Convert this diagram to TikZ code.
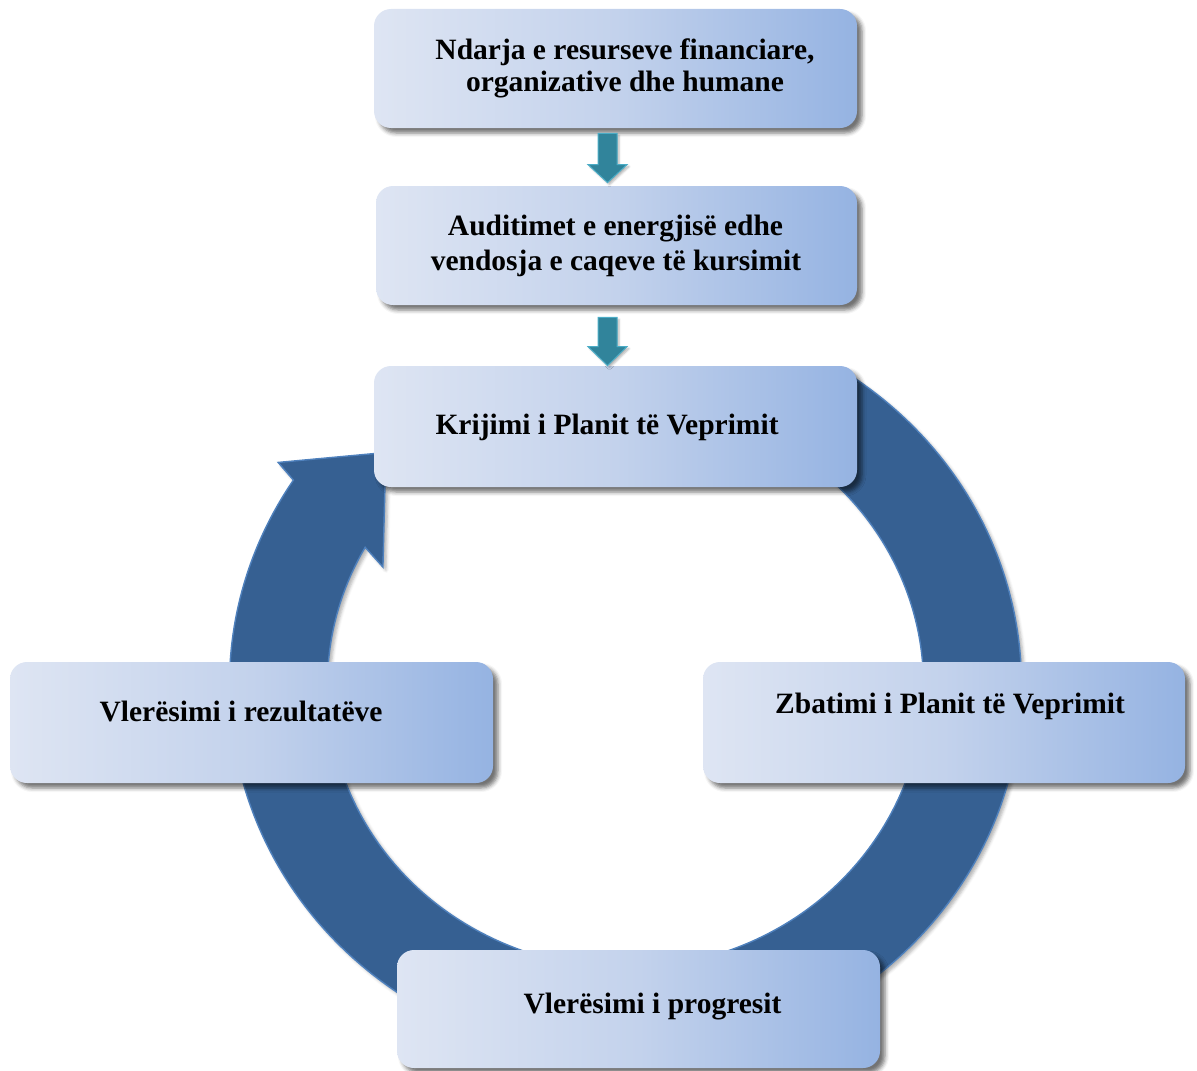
\documentclass[tikz,border=0pt]{standalone}
\usepackage{fontspec}
\setmainfont{Liberation Serif}
\usetikzlibrary{shadows.blur,calc}
\definecolor{boxL}{HTML}{DEE5F3}
\definecolor{boxM}{HTML}{C3D2EC}
\definecolor{boxR}{HTML}{95B3E2}
\definecolor{ringfill}{HTML}{366092}
\definecolor{ringedge}{HTML}{4F81BD}
\definecolor{arrfill}{HTML}{31849B}
\definecolor{arredge}{HTML}{4BACC6}
\tikzset{
  stagebox/.style={rounded corners=8.5pt, minimum width=241.5pt, minimum height=60pt,
    inner sep=0pt, left color=boxL, right color=boxR, middle color=boxM,
    blur shadow={shadow xshift=2.5pt, shadow yshift=-2.5pt, shadow blur radius=2pt, shadow opacity=55}},
  lbl/.style={anchor=base, inner sep=0pt, font=\fontsize{14.75}{17}\selectfont\bfseries},
  ringstyle/.style={fill=ringfill, draw=ringedge, line width=0.7pt, line join=miter,
    blur shadow={shadow xshift=1.5pt, shadow yshift=-1.5pt, shadow blur radius=1.5pt, shadow opacity=30}},
  flowarrow/.style={fill=arrfill, draw=arredge, line width=0.5pt,
    blur shadow={shadow xshift=1pt, shadow yshift=-1pt, shadow blur radius=1pt, shadow opacity=30}}
}
\newcommand\flowarr[3]{% #1 start, #2 tip, #3 head length
  \filldraw[flowarrow] ([xshift=-4.75pt]#1) -- ([xshift=-4.75pt,yshift=#3]#2)
    -- ([xshift=-9.75pt,yshift=#3]#2) -- (#2) -- ([xshift=9.75pt,yshift=#3]#2)
    -- ([xshift=4.75pt,yshift=#3]#2) -- ([xshift=4.75pt]#1) -- cycle;}
\begin{document}
\begin{tikzpicture}[x=0.5pt,y=-0.5pt]
\useasboundingbox (0,0) rectangle (1197,1070);

% circular arrow
\begin{scope}[shift={(625.5,685)}, yscale=0.95]
  \path[ringstyle] (-56:396) arc[start angle=-56, end angle=213, radius=396]
    -- (214:419) -- (225.6:342.6) -- (207.1:272.5) -- (209.1:298)
    arc[start angle=209.1, end angle=-56, radius=298] -- cycle;
\end{scope}

% boxes
\node[stagebox, minimum height=59.5pt] (b1) at (615.5,68.5) {};
\node[stagebox, minimum height=59.5pt, minimum width=240.5pt] (b2) at (616.5,245.5) {};
\node[stagebox, minimum height=60.5pt] (b3) at (615.5,426.5) {};
\node[stagebox, minimum height=60.5pt, minimum width=241pt] (b4) at (944,722.5) {};
\node[stagebox, minimum height=60.5pt] (b5) at (251.5,722.5) {};
\node[stagebox, minimum height=59pt] (b6) at (638.5,1009) {};

% texts
\node[lbl] (t1a) at (625,59.3) {Ndarja e resurseve financiare,};
\node[lbl] (t1b) at (625,91) {organizative dhe humane};
\node[lbl] (t2a) at (615.5,235) {Auditimet e energjisë edhe};
\node[lbl] (t2b) at (616,270) {vendosja e caqeve të kursimit};
\node[lbl] (t3) at (607,434) {Krijimi i Planit të Veprimit};
\node[lbl] (t4) at (950,713) {Zbatimi i Planit të Veprimit};
\node[lbl] (t5) at (241,721.5) {Vlerësimi i rezultatëve};
\node[lbl] (t6) at (652.5,1013) {Vlerësimi i progresit};

% flow arrows
\coordinate (a1s) at ([xshift=-4pt,yshift=-2.5pt]b1.south);
\coordinate (a1e) at ([yshift=1.5pt]b2.north -| a1s);
\flowarr{a1s}{a1e}{9pt}
\coordinate (a2s) at ([xshift=-4.5pt,yshift=-6pt]b2.south);
\coordinate (a2e) at (b3.north -| a2s);
\flowarr{a2s}{a2e}{9.5pt}
\end{tikzpicture}
\end{document}
